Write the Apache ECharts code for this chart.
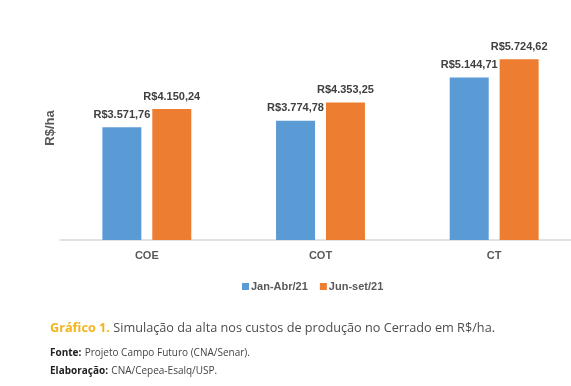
<!DOCTYPE html>
<html>
<head>
<meta charset="utf-8">
<script src="https://cdn.jsdelivr.net/npm/echarts@6/dist/echarts.min.js"></script>
<style>html,body{margin:0;padding:0;background:#fff;overflow:hidden;}#c{width:581px;height:386px;}</style>
</head>
<body>
<div id="c"></div>
<script>
const categories = ['COE', 'COT', 'CT'];
const seriesNames = ['Jan-Abr/21', 'Jun-set/21'];
const janAbr = [3571.76, 3774.78, 5144.71];
const junSet = [4150.24, 4353.25, 5724.62];

const fmt = v => 'R$' + v.toFixed(2).replace('.', ',').replace(/\B(?=(\d{3})+(?!\d))/g, '.');

const chart = echarts.init(document.getElementById('c'));
const labelCfg = {
  show: true, position: 'top', distance: 7,
  fontFamily: 'Liberation Sans', fontWeight: 'bold', fontSize: 11, color: '#404040',
  formatter: p => fmt(p.value)
};
chart.setOption({
  animation: false,
  grid: { left: 60, right: 0, top: 50.6, bottom: 146 },
  xAxis: {
    type: 'category', data: categories,
    axisLine: { lineStyle: { color: '#d9d9d9', width: 1.5 } },
    axisTick: { show: false },
    axisLabel: { margin: 10, fontFamily: 'Liberation Sans', fontWeight: 'bold', fontSize: 11, color: '#595959' }
  },
  yAxis: {
    type: 'value', min: 0, max: 6000, show: false
  },
  legend: {
    data: seriesNames, left: 237, top: 276, icon: 'rect', itemWidth: 7, itemHeight: 7, itemGap: 12,
    textStyle: { fontFamily: 'Liberation Sans', fontWeight: 'bold', fontSize: 11, color: '#595959', padding: [0, 0, 0, -3] }
  },
  series: [
    { name: seriesNames[0], type: 'bar', data: janAbr, barWidth: 39, barGap: '28%', itemStyle: { color: '#5b9bd5' }, label: labelCfg },
    { name: seriesNames[1], type: 'bar', data: junSet, barWidth: 39, itemStyle: { color: '#ed7d31' }, label: labelCfg }
  ],
  graphic: [
    { type: 'text', x: 50, y: 128, rotation: Math.PI / 2, style: { text: 'R$/ha', fontFamily: 'Liberation Sans', fontWeight: 'bold', fontSize: 13, fill: '#595959', align: 'center', verticalAlign: 'middle' } },
    { type: 'text', x: 50, y: 328, style: {
      text: '{y|Gráfico 1.} {n|Simulação da alta nos custos de produção no Cerrado em R$/ha.}',
      verticalAlign: 'middle',
      rich: {
        y: { fontFamily: 'Open Sans', fontWeight: 'bold', fontSize: 12.7, fill: '#f3b31a' },
        n: { fontFamily: 'Open Sans', fontSize: 12.7, fill: '#4d4d4d' }
      } } },
    { type: 'text', x: 50, y: 353, style: {
      text: '{b|Fonte:} {n|Projeto Campo Futuro (CNA/Senar).}',
      verticalAlign: 'middle',
      rich: {
        b: { fontFamily: 'Open Sans', fontWeight: 'bold', fontSize: 10, fill: '#222' },
        n: { fontFamily: 'Open Sans', fontSize: 10, fill: '#444' }
      } } },
    { type: 'text', x: 50, y: 371, style: {
      text: '{b|Elaboração:} {n|CNA/Cepea-Esalq/USP.}',
      verticalAlign: 'middle',
      rich: {
        b: { fontFamily: 'Open Sans', fontWeight: 'bold', fontSize: 10, fill: '#222' },
        n: { fontFamily: 'Open Sans', fontSize: 10, fill: '#444' }
      } } }
  ]
});
</script>
</body>
</html>
